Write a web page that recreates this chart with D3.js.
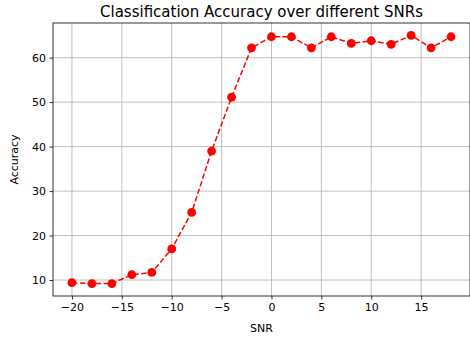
<!DOCTYPE html>
<html><head><meta charset="utf-8">
<script src="https://cdn.jsdelivr.net/npm/d3@7"></script>
<style>body{margin:0;background:#fff}svg{display:block}text{font-family:"DejaVu Sans",sans-serif;fill:#000}</style>
</head><body><svg id="c" width="470" height="340"></svg>
<script>
const snr = [-20,-18,-16,-14,-12,-10,-8,-6,-4,-2,0,2,4,6,8,10,12,14,16,18];
const accuracy = [9.4,9.2,9.2,11.2,11.7,17.0,25.2,39.0,51.1,62.2,64.7,64.7,62.2,64.7,63.2,63.8,63.0,65.0,62.2,64.7];
const xTicks = [-20,-15,-10,-5,0,5,10,15];
const yTicks = [10,20,30,40,50,60];
const title = "Classification Accuracy over different SNRs";
const xLabel = "SNR", yLabel = "Accuracy";

const svg = d3.select("#c");
const L=53, R=470, T=23, B=296;
const xmin=d3.min(snr), xmax=d3.max(snr), ymin=d3.min(accuracy), ymax=d3.max(accuracy);
const xm=(xmax-xmin)*0.05, ym=(ymax-ymin)*0.05;
const x=d3.scaleLinear().domain([xmin-xm,xmax+xm]).range([L,R]);
const y=d3.scaleLinear().domain([ymin-ym,ymax+ym]).range([B,T]);

// grid
svg.append("g").selectAll("line").data(xTicks).join("line")
  .attr("x1",d=>x(d)).attr("x2",d=>x(d)).attr("y1",T).attr("y2",B)
  .attr("stroke","#b0b0b0").attr("stroke-width",0.8);
svg.append("g").selectAll("line").data(yTicks).join("line")
  .attr("y1",d=>y(d)).attr("y2",d=>y(d)).attr("x1",L).attr("x2",R)
  .attr("stroke","#b0b0b0").attr("stroke-width",0.8);

// axes
const xa=svg.append("g").attr("transform",`translate(0,${B})`)
  .call(d3.axisBottom(x).tickValues(xTicks).tickSize(3.5).tickPadding(3.5).tickFormat(d=>d<0?"\u2212"+(-d):d));
const ya=svg.append("g").attr("transform",`translate(${L},0)`)
  .call(d3.axisLeft(y).tickValues(yTicks).tickSize(3.5).tickPadding(3.5));
[xa,ya].forEach(g=>{g.select(".domain").remove();g.selectAll("text").attr("font-size","11px").attr("font-family","DejaVu Sans").attr("fill","#000");g.selectAll("line").attr("stroke","#000").attr("stroke-width",0.8);});

// spines
svg.append("rect").attr("x",L).attr("y",T).attr("width",R-L).attr("height",B-T)
  .attr("fill","none").attr("stroke","#000").attr("stroke-width",0.8);

// line
const pts=snr.map((s,i)=>[s,accuracy[i]]);
svg.append("path").datum(pts).attr("fill","none").attr("stroke","#ff0000").attr("stroke-width",1.5)
  .attr("stroke-dasharray","5.5,2.4")
  .attr("d",d3.line().x(d=>x(d[0])).y(d=>y(d[1])));
svg.append("g").selectAll("circle").data(pts).join("circle")
  .attr("cx",d=>x(d[0])).attr("cy",d=>y(d[1])).attr("r",4.4).attr("fill","#ff0000");

// labels
svg.append("text").attr("x",(L+R)/2).attr("y",17).attr("text-anchor","middle").attr("font-size","15px").text(title);
svg.append("text").attr("x",(L+R)/2).attr("y",332).attr("text-anchor","middle").attr("font-size","11px").text(xLabel);
svg.append("text").attr("transform",`translate(18,${(T+B)/2}) rotate(-90)`).attr("text-anchor","middle").attr("font-size","11px").text(yLabel);
</script></body></html>
